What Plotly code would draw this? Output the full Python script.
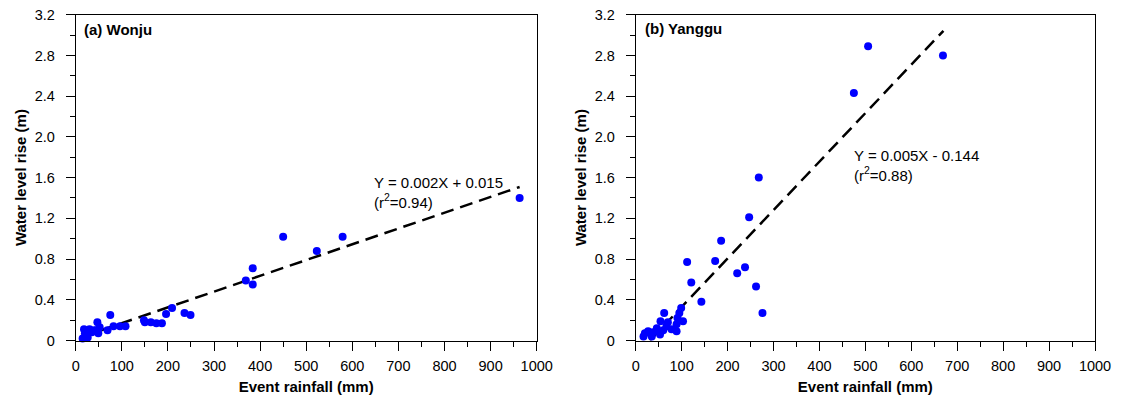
import plotly.graph_objects as go

# Wonju data
wonju_rain = [15, 18, 20, 23, 26, 30, 35, 40, 45, 47, 49, 52, 69, 75, 82, 96, 108,
              148, 150, 163, 175, 187, 196, 209, 236, 249, 369, 384, 384, 450, 523, 579, 963]
wonju_rise = [0.02, 0.11, 0.07, 0.05, 0.03, 0.11, 0.08, 0.10, 0.10, 0.18, 0.07, 0.13, 0.10,
              0.25, 0.14, 0.14, 0.14, 0.20, 0.18, 0.18, 0.17, 0.17, 0.26, 0.32, 0.27, 0.25,
              0.59, 0.71, 0.55, 1.02, 0.88, 1.02, 1.40]

# Yanggu data
yanggu_rain = [17, 20, 27, 35, 38, 46, 53, 54, 60, 62, 67, 70, 78, 89, 89, 91, 95, 99, 103,
               112, 121, 143, 173, 186, 221, 238, 247, 262, 268, 276, 475, 506, 669]
yanggu_rise = [0.04, 0.07, 0.09, 0.04, 0.08, 0.12, 0.06, 0.19, 0.10, 0.27, 0.14, 0.18, 0.11,
               0.09, 0.16, 0.22, 0.27, 0.32, 0.19, 0.77, 0.57, 0.38, 0.78, 0.98, 0.66, 0.72,
               1.21, 0.53, 1.60, 0.27, 2.43, 2.89, 2.80]

# Fitted lines (slope, intercept, x-range as drawn)
wonju_fit = dict(slope=0.00155, intercept=0.015, x=[13, 963])
yanggu_fit = dict(slope=0.00476, intercept=-0.147, x=[31, 670])

x_ticks = [0, 100, 200, 300, 400, 500, 600, 700, 800, 900, 1000]
y_ticks = [0, 0.4, 0.8, 1.2, 1.6, 2.0, 2.4, 2.8, 3.2]
y_tick_text = ["0", "0.4", "0.8", "1.2", "1.6", "2.0", "2.4", "2.8", "3.2"]

panel_labels = ["(a) Wonju", "(b) Yanggu"]
eq_texts = ["Y = 0.002X + 0.015<br>(r<sup>2</sup>=0.94)",
            "Y = 0.005X - 0.144<br>(r<sup>2</sup>=0.88)"]

FONT = "Liberation Sans, Arial, sans-serif"
fig = go.Figure()

datasets = [(wonju_rain, wonju_rise, wonju_fit, "x", "y"),
            (yanggu_rain, yanggu_rise, yanggu_fit, "x2", "y2")]
for xs, ys, fit, xa, ya in datasets:
    fx = fit["x"]
    fy = [fit["slope"] * v + fit["intercept"] for v in fx]
    fig.add_trace(go.Scatter(x=fx, y=fy, mode="lines", xaxis=xa, yaxis=ya,
                             line=dict(color="black", width=2.5, dash="13px,7px"),
                             showlegend=False, cliponaxis=False))
    fig.add_trace(go.Scatter(x=xs, y=ys, mode="markers", xaxis=xa, yaxis=ya,
                             marker=dict(color="#0000FF", size=8, line=dict(width=0)),
                             showlegend=False, cliponaxis=False))

W, H = 1122, 398
xdoms = [[75.7 / W, 536.7 / W], [635.7 / W, 1095 / W]]
ydom = [1 - 340.5 / H, 1 - 14.7 / H]

common_x = dict(range=[0, 1000], tickmode="array", tickvals=x_ticks,
                ticks="outside", ticklen=9, tickwidth=1, tickcolor="black",
                showline=True, linecolor="black", linewidth=1, mirror=True,
                showgrid=False, zeroline=False,
                tickfont=dict(family=FONT, size=14.5, color="black"),
                minor=dict(tickmode="linear", tick0=0, dtick=50, ticks="outside",
                           ticklen=5, tickcolor="black", showgrid=False),
                title=dict(text="<b>Event rainfall (mm)</b>",
                           font=dict(family=FONT, size=15, color="black"), standoff=8),
                ticklabelstandoff=3)
common_y = dict(range=[0, 3.2], tickmode="array", tickvals=y_ticks, ticktext=y_tick_text,
                ticks="outside", ticklen=9, tickwidth=1, tickcolor="black",
                showline=True, linecolor="black", linewidth=1, mirror=True,
                showgrid=False, zeroline=False,
                tickfont=dict(family=FONT, size=14.5, color="black"),
                minor=dict(tickmode="linear", tick0=0, dtick=0.2, ticks="outside",
                           ticklen=5, tickcolor="black", showgrid=False),
                title=dict(text="<b>Water level rise (m)</b>",
                           font=dict(family=FONT, size=15, color="black"), standoff=4),
                ticklabelstandoff=8)

fig.update_layout(
    width=W, height=H,
    margin=dict(l=0, r=0, t=0, b=0),
    paper_bgcolor="white", plot_bgcolor="white",
    xaxis=dict(common_x, domain=xdoms[0], anchor="y", automargin=False),
    yaxis=dict(common_y, domain=ydom, anchor="x", automargin=False),
    xaxis2=dict(common_x, domain=xdoms[1], anchor="y2", automargin=False),
    yaxis2=dict(common_y, domain=ydom, anchor="x2", automargin=False),
)

# Panel labels
label_pos = [(81.7, 30), (643.3, 28.5)]
for (px, py), txt in zip(label_pos, panel_labels):
    fig.add_annotation(x=px / W, y=1 - py / H, xref="paper", yref="paper",
                       text=f"<b>{txt}</b>", showarrow=False, xanchor="left", yanchor="middle",
                       font=dict(family=FONT, size=15, color="black"))

# Equation annotations
eq_pos = [(372, 192), (852, 166)]
for (px, py), txt in zip(eq_pos, eq_texts):
    fig.add_annotation(x=px / W, y=1 - py / H, xref="paper", yref="paper",
                       text=txt, showarrow=False, xanchor="left", yanchor="middle", align="left",
                       font=dict(family=FONT, size=15, color="black"))

fig.write_html("out.html")
